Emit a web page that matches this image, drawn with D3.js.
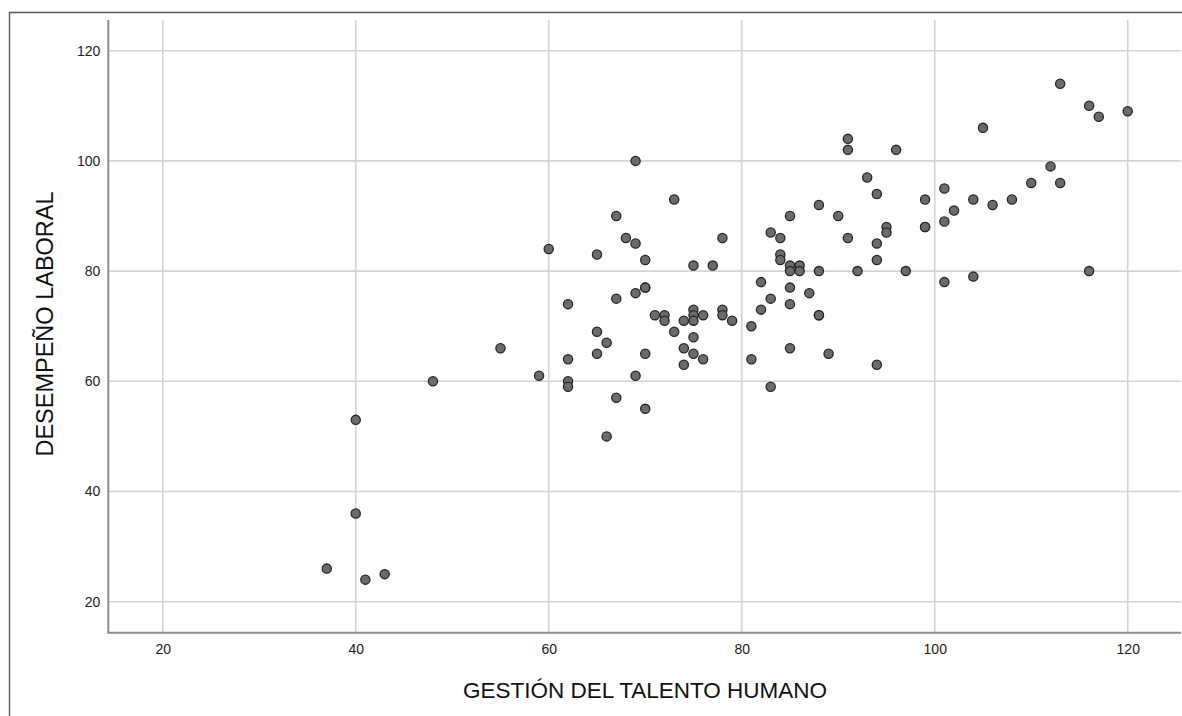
<!DOCTYPE html>
<html>
<head>
<meta charset="utf-8">
<script src="https://cdn.jsdelivr.net/npm/d3@7"></script>
<style>
	body { margin: 0; background: #fff; }
	svg { display: block; font-family: "Liberation Sans", Arial, sans-serif; }
	.grid line { stroke: #d3d3d3; stroke-width: 1.6; }
	.tick text { fill: #222; font-size: 14px; }
</style>
</head>
<body>
<div id="chart"></div>
<script>
// GESTIÓN DEL TALENTO HUMANO (x) vs DESEMPEÑO LABORAL (y)
const gestion = [37, 40, 40, 41, 43, 48, 55, 59, 60,
	62, 62, 62, 62, 65, 65, 65, 66, 66, 67, 67, 67, 68,
	69, 69, 69, 69, 70, 70, 70, 70, 70, 71, 72, 72, 73, 73,
	74, 74, 74, 75, 75, 75, 75, 75, 75, 76, 76, 77, 78, 78, 78, 79,
	81, 81, 82, 82, 83, 83, 83, 84, 84, 84,
	85, 85, 85, 85, 85, 85, 86, 86, 87, 88, 88, 88, 88, 89, 90,
	91, 91, 91, 92, 93, 94, 94, 94, 94, 95, 95, 96, 97,
	99, 99, 99, 101, 101, 101, 102, 104, 104, 105, 106, 108,
	110, 112, 113, 113, 116, 116, 117, 120];
const desempeno = [26, 53, 36, 24, 25, 60, 66, 61, 84,
	74, 64, 60, 59, 83, 69, 65, 67, 50, 90, 75, 57, 86,
	100, 85, 76, 61, 82, 77, 77, 65, 55, 72, 72, 71, 93, 69,
	71, 66, 63, 81, 73, 72, 71, 68, 65, 72, 64, 81, 86, 73, 72, 71,
	70, 64, 78, 73, 87, 75, 59, 86, 83, 82,
	90, 81, 80, 77, 74, 66, 81, 80, 76, 92, 80, 72, 72, 65, 90,
	104, 102, 86, 80, 97, 94, 85, 82, 63, 88, 87, 102, 80,
	93, 88, 88, 95, 89, 78, 91, 93, 79, 106, 92, 93,
	96, 99, 114, 96, 110, 80, 108, 109];
const tickValues = [20, 40, 60, 80, 100, 120];

const width = 1182, height = 716;
const plot = {left: 108.3, top: 20, right: 1181, bottom: 632.7};

let svg = d3.select("#chart")
	.append("svg")
	.attr("width", width)
	.attr("height", height);

let xScale = d3.scaleLinear()
	.domain([14.36, 125.52])
	.range([plot.left, plot.right]);

let yScale = d3.scaleLinear()
	.domain([14.37, 125.57])
	.range([plot.bottom, plot.top]);

// outer frame (top and left edges only are visible)
svg.append("path")
	.attr("d", "M9.5,716 V12.5 H1182")
	.attr("fill", "none")
	.attr("stroke", "#5a5a5a")
	.attr("stroke-width", 1.4);

// grid lines
svg.append("g")
	.attr("class", "grid")
	.selectAll("line.v")
	.data(tickValues)
	.join("line")
	.attr("x1", d => xScale(d)).attr("x2", d => xScale(d))
	.attr("y1", plot.top).attr("y2", plot.bottom);

svg.append("g")
	.attr("class", "grid")
	.selectAll("line.h")
	.data(tickValues)
	.join("line")
	.attr("x1", plot.left).attr("x2", plot.right)
	.attr("y1", d => yScale(d)).attr("y2", d => yScale(d));

// axes
let xAxis = svg.append("g")
	.attr("transform", "translate(0," + plot.bottom + ")")
	.call(d3.axisBottom(xScale).tickValues(tickValues).tickSize(0).tickPadding(11));
xAxis.select(".domain").remove();

let yAxis = svg.append("g")
	.attr("transform", "translate(" + plot.left + ",0)")
	.call(d3.axisLeft(yScale).tickValues(tickValues).tickSize(0).tickPadding(8));
yAxis.select(".domain").remove();

svg.selectAll(".tick text").attr("font-family", null).attr("font-size", null);

svg.append("path")
	.attr("d", "M" + plot.left + "," + plot.top + " V" + plot.bottom + " H" + plot.right)
	.attr("fill", "none")
	.attr("stroke", "#8c8c8c")
	.attr("stroke-width", 2);

// points
svg.append("g")
	.selectAll("circle")
	.data(d3.range(gestion.length))
	.join("circle")
	.attr("cx", i => xScale(gestion[i]))
	.attr("cy", i => yScale(desempeno[i]))
	.attr("r", 4.6)
	.attr("fill", "#6b6b6b")
	.attr("stroke", "#262626")
	.attr("stroke-width", 1.3);

// axis titles
svg.append("text")
	.attr("x", 645)
	.attr("y", 698)
	.attr("text-anchor", "middle")
	.attr("font-size", 22.5)
	.attr("fill", "#111")
	.text("GESTIÓN DEL TALENTO HUMANO");

svg.append("text")
	.attr("transform", "translate(53,324) rotate(-90)")
	.attr("text-anchor", "middle")
	.attr("font-size", 23.5)
	.attr("fill", "#111")
	.text("DESEMPEÑO LABORAL");
</script>
</body>
</html>
